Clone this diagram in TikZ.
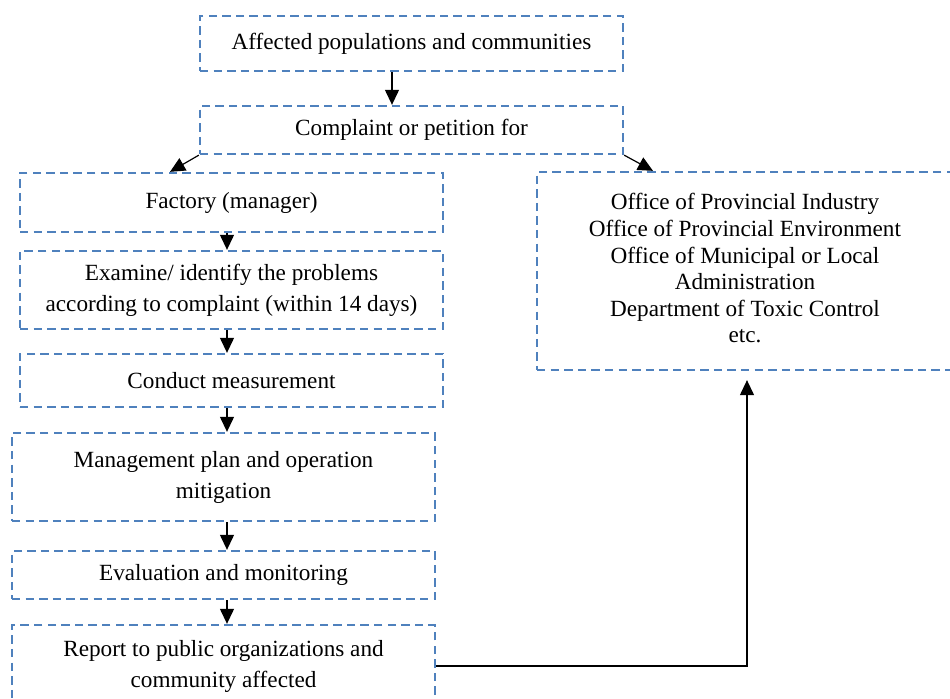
\documentclass[tikz,border=0pt]{standalone}
\usepackage{fontspec}
\setmainfont{Liberation Serif}
\usetikzlibrary{arrows.meta,calc}
\definecolor{boxblue}{HTML}{4F81BD}
\begin{document}
\begin{tikzpicture}[x=0.5pt,y=-0.5pt,
  box/.style={draw=boxblue, line width=1.15pt, dash pattern=on 4.2pt off 2.6pt,
    rectangle, inner sep=0pt, align=center,
    font=\fontsize{11.6}{15.5}\selectfont},
  arr/.style={draw=black, line width=0.6pt, -{Triangle[length=7.5pt,width=7pt]}}]
\useasboundingbox (0,0) rectangle (950,699);
\clip (0,0) rectangle (950,699);

% top of the chain
\node[box, minimum width=211.5pt, minimum height=27.5pt] (aff) at (411.5,43.5)
  {Affected populations and communities};
\node[box, minimum width=211.5pt, minimum height=24pt] (comp) at (411.5,130)
  {Complaint or petition for};

% left column: factory procedure
\node[box, minimum width=211.5pt, minimum height=29.5pt] (fac) at (231.5,202.5)
  {\raisebox{2.5pt}{Factory (manager)}};
\node[box, minimum width=211.5pt, minimum height=39pt] (exa) at (231.5,290)
  {Examine/ identify the problems\\according to complaint (within 14 days)};
\node[box, minimum width=211.5pt, minimum height=26.5pt] (con) at (231.5,380.5)
  {Conduct measurement};
\node[box, minimum width=211.5pt, minimum height=44pt] (man) at (223.5,477)
  {Management plan and operation\\mitigation};
\node[box, minimum width=211.5pt, minimum height=24pt] (eva) at (223.5,575)
  {Evaluation and monitoring};
\node[box, minimum width=211.5pt, minimum height=41pt] (rep) at (223.5,666)
  {Report to public organizations and\\community affected};

% right column: authorities
\node[box, minimum width=208pt, minimum height=99pt,
      font=\fontsize{11.6}{13.3}\selectfont] (off) at (745,271)
  {\raisebox{3pt}{\begin{tabular}{@{}c@{}}Office of Provincial Industry\\
   Office of Provincial Environment\\
   Office of Municipal or Local\\
   Administration\\
   Department of Toxic Control\\
   etc.\end{tabular}}};

% connectors
\coordinate (spine) at (227,0);
\draw[arr] ([xshift=-9.75pt]aff.south) -- ([xshift=-9.75pt]comp.north);
\draw[arr] (comp.south west) -- ([xshift=-30.75pt]fac.north);
\draw[arr] (comp.south east) -- ([xshift=-46pt]off.north);
\draw[arr] (fac.south -| spine) -- (exa.north -| spine);
\draw[arr] (exa.south -| spine) -- (con.north -| spine);
\draw[arr] (con.south -| spine) -- (man.north -| spine);
\draw[arr] (man.south -| spine) -- (eva.north -| spine);
\draw[arr] (eva.south -| spine) -- (rep.north -| spine);
\draw[arr, shorten >=4.5pt] (rep.east) -| ([xshift=1pt]off.south);
\end{tikzpicture}
\end{document}
